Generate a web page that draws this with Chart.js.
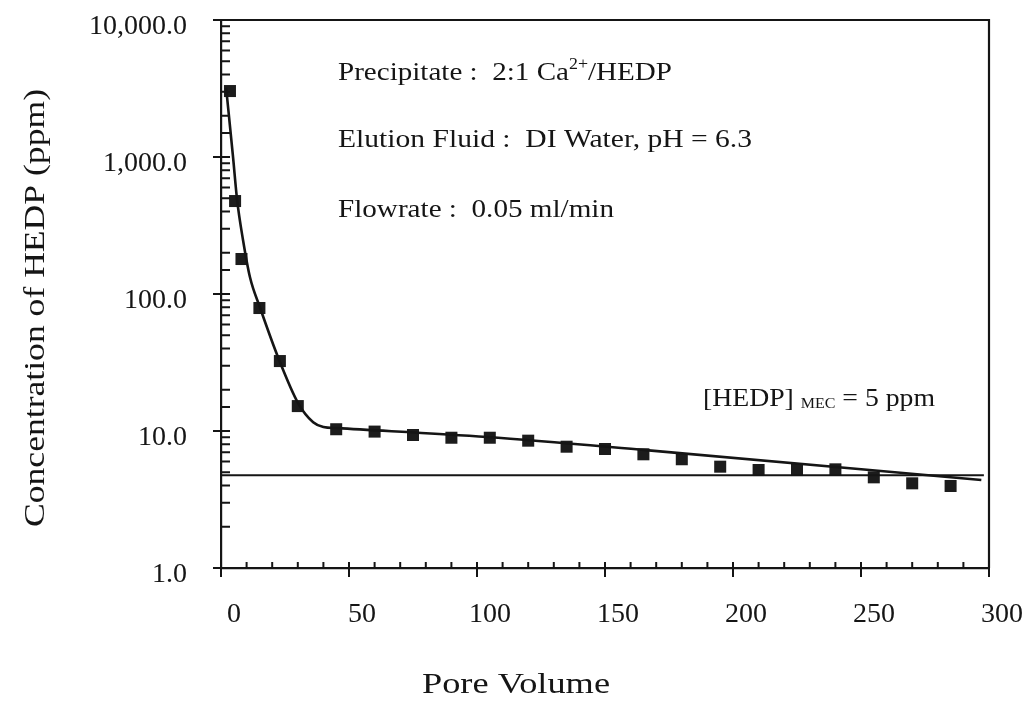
<!DOCTYPE html>
<html>
<head>
<meta charset="utf-8">
<script src="https://cdn.jsdelivr.net/npm/chart.js@4.4.1/dist/chart.umd.min.js"></script>
<style>
  html, body { margin: 0; padding: 0; background: #fff; }
  canvas { display: block; }
</style>
</head>
<body>
<canvas id="elution" width="1024" height="719"></canvas>
<script>
// measured points (squares)
var poreVolume = [3.5, 5.5, 8, 15, 23, 30, 45, 60, 75, 90, 105, 120, 135, 150, 165, 180, 195, 210, 225, 240, 255, 270, 285];
var hedpConc = [3030, 477, 180, 79, 32.4, 15.2, 10.3, 9.9, 9.35, 8.93, 8.93, 8.5, 7.68, 7.39, 6.76, 6.22, 5.49, 5.19, 5.19, 5.25, 4.59, 4.15, 3.97];

// smooth fitted curve
var fitVolume = [2, 4.7, 6.3, 8.6, 11.3, 15.3, 22.7, 30.1, 36, 40, 45.4, 104, 166, 297];
var fitConc = [3200, 1000, 485, 248, 133, 79, 33, 16, 11.6, 10.7, 10.5, 9.05, 7.25, 4.39];

// MEC level line
var mecVolume = [0, 298];
var mecConc = [4.75, 4.75];

var yTickLabels = { 1: "1.0", 10: "10.0", 100: "100.0", 1000: "1,000.0", 10000: "10,000.0" };
var xMajorStep = 50;

var ink = "#151515";
var serif = "'Liberation Serif', 'DejaVu Serif', serif";
Chart.defaults.font.family = serif;
Chart.defaults.color = ink;

function pts(xs, ys) {
  return xs.map(function (v, i) { return { x: v, y: ys[i] }; });
}

function isDecade(v) {
  var l = Math.log10(v);
  return Math.abs(l - Math.round(l)) < 1e-6;
}

// draw a line of text runs, stretched horizontally to a target width
function drawRuns(ctx, runs, x, base, targetW) {
  var natural = 0;
  runs.forEach(function (r) {
    ctx.font = r.size + "px " + serif;
    natural += ctx.measureText(r.text).width;
  });
  ctx.save();
  ctx.translate(x, base);
  ctx.scale(targetW / natural, 1);
  var cx = 0;
  runs.forEach(function (r) {
    ctx.font = r.size + "px " + serif;
    ctx.fillText(r.text, cx, r.dy || 0);
    cx += ctx.measureText(r.text).width;
  });
  ctx.restore();
}

var decor = {
  id: "decor",
  afterDraw: function (chart) {
    var ctx = chart.ctx, a = chart.chartArea;
    var xs = chart.scales.x, ys = chart.scales.y;
    ctx.save();
    ctx.strokeStyle = ink;
    ctx.lineWidth = 2.2;
    ctx.beginPath();
    ctx.moveTo(a.left, a.top);
    ctx.lineTo(a.right, a.top);
    ctx.lineTo(a.right, a.bottom);
    ctx.stroke();

    ctx.lineWidth = 2;
    ctx.beginPath();
    ys.ticks.forEach(function (t) {
      var py = ys.getPixelForValue(t.value);
      if (isDecade(t.value)) {
        ctx.moveTo(a.left - 8, py);
        ctx.lineTo(a.left + 9, py);
      } else {
        ctx.moveTo(a.left, py);
        ctx.lineTo(a.left + 9, py);
      }
    });
    xs.ticks.forEach(function (t) {
      var px = xs.getPixelForValue(t.value);
      if (t.value % xMajorStep === 0) {
        ctx.moveTo(px, a.bottom - 6);
        ctx.lineTo(px, a.bottom + 9);
      } else {
        ctx.moveTo(px, a.bottom - 6);
        ctx.lineTo(px, a.bottom);
      }
    });
    ctx.stroke();

    ctx.fillStyle = ink;
    ctx.textBaseline = "alphabetic";
    ctx.textAlign = "left";
    drawRuns(ctx, [
      { text: "Precipitate :  2:1 Ca", size: 26 },
      { text: "2+", size: 16, dy: -11 },
      { text: "/HEDP", size: 26 }
    ], 338, 80, 334);
    drawRuns(ctx, [{ text: "Elution Fluid :  DI Water, pH = 6.3", size: 26 }], 338, 147, 414);
    drawRuns(ctx, [{ text: "Flowrate :  0.05 ml/min", size: 26 }], 338, 217, 276);
    drawRuns(ctx, [
      { text: "[HEDP] ", size: 26 },
      { text: "MEC", size: 15, dy: 2 },
      { text: " = 5 ppm", size: 26 }
    ], 703, 406, 232);

    // axis titles
    drawRuns(ctx, [{ text: "Pore Volume", size: 30 }], 422, 693, 188);
    ctx.save();
    ctx.translate(44, 527);
    ctx.rotate(-Math.PI / 2);
    drawRuns(ctx, [{ text: "Concentration of HEDP (ppm)", size: 30 }], 0, 0, 438);
    ctx.restore();
    ctx.restore();
  }
};

new Chart(document.getElementById("elution"), {
  type: "scatter",
  data: {
    datasets: [
      {
        label: "fit",
        type: "line",
        data: pts(fitVolume, fitConc),
        borderColor: ink,
        borderWidth: 2.6,
        pointRadius: 0,
        cubicInterpolationMode: "monotone",
        fill: false
      },
      {
        label: "MEC",
        type: "line",
        data: pts(mecVolume, mecConc),
        borderColor: ink,
        borderWidth: 2,
        pointRadius: 0,
        fill: false
      },
      {
        label: "HEDP",
        data: pts(poreVolume, hedpConc),
        pointStyle: "rect",
        pointRadius: 8.5,
        backgroundColor: "#1c1c1c",
        borderColor: "#1c1c1c",
        borderWidth: 0
      }
    ]
  },
  options: {
    responsive: false,
    devicePixelRatio: 1,
    animation: false,
    layout: { padding: { left: 0, top: 20, right: 35, bottom: 0 } },
    plugins: {
      legend: { display: false },
      tooltip: { enabled: false }
    },
    scales: {
      x: {
        type: "linear",
        min: 0,
        max: 300,
        grid: { display: false },
        border: { display: true, color: ink, width: 2.2 },
        ticks: {
          stepSize: 10,
          autoSkip: false,
          maxRotation: 0,
          padding: 22,
          labelOffset: 13,
          font: { size: 28 },
          color: ink,
          callback: function (v) { return v % xMajorStep === 0 ? String(v) : ""; }
        },
        afterFit: function (s) {
          s.height = 151;
          s.paddingLeft = 0;
          s.paddingRight = 0;
        }
      },
      y: {
        type: "logarithmic",
        min: 1,
        max: 10000,
        grid: { display: false },
        border: { display: true, color: ink, width: 2.2 },
        ticks: {
          autoSkip: false,
          padding: 26,
          labelOffset: 7,
          font: { size: 28 },
          color: ink,
          callback: function (v) { return yTickLabels[v] || ""; }
        },
        afterFit: function (s) {
          s.width = 221;
          s.paddingTop = 0;
          s.paddingBottom = 0;
        }
      }
    }
  },
  plugins: [decor]
});
</script>
</body>
</html>
